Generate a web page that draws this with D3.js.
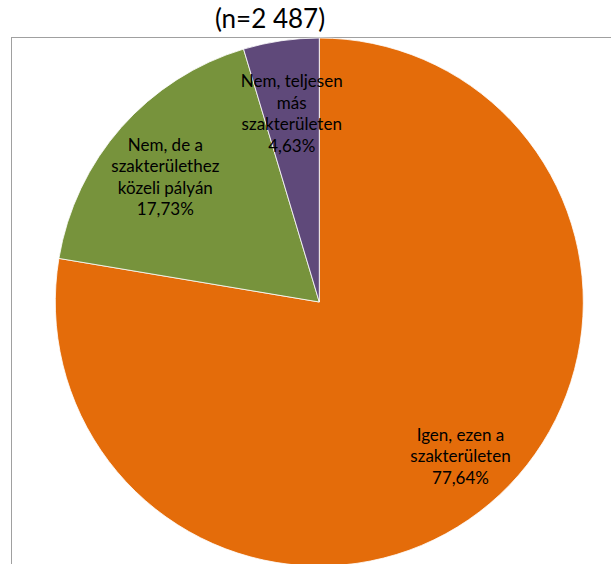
<!DOCTYPE html>
<html>
<head>
<meta charset="utf-8">
<script src="https://cdn.jsdelivr.net/npm/d3@7"></script>
<style>
  html, body { margin: 0; padding: 0; background: #fff; }
  svg { display: block; }
</style>
</head>
<body>
<svg id="chart" width="611" height="564"></svg>
<script>
const title = "(n=2 487)";
const categories = ["Igen, ezen a szakterületen", "Nem, de a szakterülethez közeli pályán", "Nem, teljesen más szakterületen"];
const values = [77.64, 17.73, 4.63];
const valueLabels = ["77,64%", "17,73%", "4,63%"];
const labelLines = [
  ["Igen, ezen a", "szakterületen"],
  ["Nem, de a", "szakterülethez", "közeli pályán"],
  ["Nem, teljesen", "más", "szakterületen"]
];
const colors = ["#E46C0A", "#77933C", "#5F497A"];

const W = 611, H = 564;
const cx = 319.3, cy = 302, R = 264;
const font = "Lato, 'Open Sans', sans-serif";

const svg = d3.select("#chart");
svg.append("rect").attr("width", W).attr("height", H).attr("fill", "#fff");

// plot area border
svg.append("rect")
  .attr("x", 11.5).attr("y", 37.5)
  .attr("width", 700).attr("height", 600)
  .attr("fill", "#fff")
  .attr("stroke", "#a0a0a0").attr("stroke-width", 1);

svg.append("text")
  .attr("x", 270).attr("y", 28)
  .attr("text-anchor", "middle")
  .attr("font-family", font)
  .attr("font-size", 26)
  .attr("fill", "#000")
  .text(title);

const pie = d3.pie().sort(null).value(d => d)(values);
const arc = d3.arc().innerRadius(0).outerRadius(R);

const g = svg.append("g").attr("transform", `translate(${cx},${cy})`);
g.selectAll("path.slice")
  .data(pie)
  .join("path")
  .attr("class", "slice")
  .attr("d", arc)
  .attr("fill", (d, i) => colors[i])
  .attr("stroke", "#fff")
  .attr("stroke-width", 0.8);

// label anchors: slice mid-angle at a fraction of the radius, nudged
const labelRadius = [0.795, 0.745, 0.72];
const labelNudge = [[5.6, -5.4], [-6.5, 5.7], [0, 0]];
const lineH = 21.5;
pie.forEach((d, i) => {
  const a = (d.startAngle + d.endAngle) / 2;
  const rr = R * labelRadius[i];
  const lx = Math.sin(a) * rr + labelNudge[i][0];
  const ly = -Math.cos(a) * rr + labelNudge[i][1];
  const lines = labelLines[i].concat([valueLabels[i]]);
  const t = g.append("text")
    .attr("text-anchor", "middle")
    .attr("font-family", font)
    .attr("font-size", 17)
    .attr("fill", "#000");
  const startY = ly - (lines.length - 1) * lineH / 2 + 5.5;
  lines.forEach((s, k) => {
    t.append("tspan").attr("x", lx).attr("y", startY + k * lineH).text(s);
  });
});
</script>
</body>
</html>
